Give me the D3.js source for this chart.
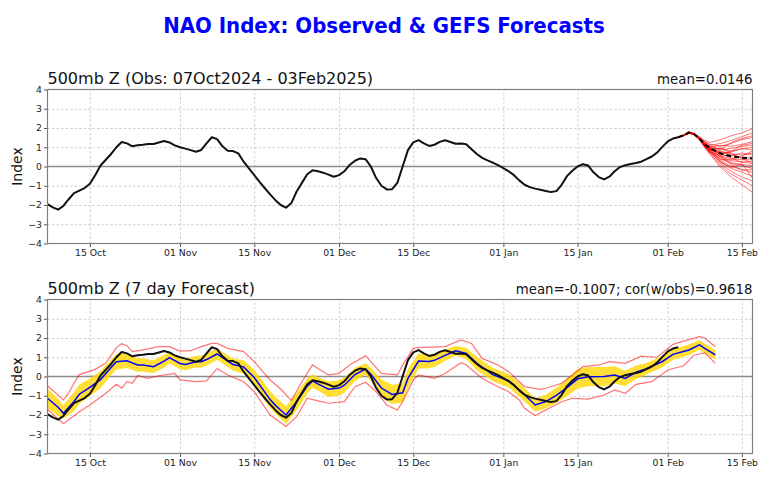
<!DOCTYPE html>
<html><head><meta charset="utf-8">
<script src="https://cdn.jsdelivr.net/npm/d3@7"></script>
<style>body{margin:0;background:#fff}svg{display:block}</style>
</head><body><svg id="c" width="768" height="480"></svg>
<script>
// ---------- data ----------
const startDate = "2024-10-07";
const endDate = "2025-02-17";
const tickDates = ["2024-10-15","2024-11-01","2024-11-15","2024-12-01","2024-12-15","2025-01-01","2025-01-15","2025-02-01","2025-02-15"];
const tickLabels = ["15 Oct","01 Nov","15 Nov","01 Dec","15 Dec","01 Jan","15 Jan","01 Feb","15 Feb"];
const yTicks = [-4,-3,-2,-1,0,1,2,3,4];
const mainTitle = "NAO Index: Observed & GEFS Forecasts";
const topTitle = "500mb Z (Obs: 07Oct2024 - 03Feb2025)";
const topStat = "mean=0.0146";
const botTitle = "500mb Z (7 day Forecast)";
const botStat = "mean=-0.1007; cor(w/obs)=0.9618";

// observed NAO index, daily from 07 Oct 2024 (day 0) to 03 Feb 2025 (day 119)
const obs = [-1.95,-2.12,-2.24,-2.05,-1.7,-1.38,-1.25,-1.12,-0.9,-0.45,
0.05,0.35,0.65,1.0,1.27,1.2,1.05,1.1,1.13,1.17,
1.17,1.25,1.32,1.25,1.1,1.0,0.93,0.85,0.77,0.86,
1.2,1.52,1.42,1.05,0.82,0.8,0.68,0.25,-0.1,-0.45,
-0.8,-1.13,-1.45,-1.75,-2.0,-2.14,-1.9,-1.3,-0.85,-0.4,
-0.2,-0.25,-0.32,-0.42,-0.53,-0.45,-0.25,0.08,0.3,0.42,
0.38,0.0,-0.6,-1.0,-1.19,-1.18,-0.85,0.0,0.85,1.25,
1.37,1.2,1.07,1.13,1.28,1.36,1.27,1.18,1.2,1.16,
0.9,0.65,0.45,0.32,0.2,0.07,-0.08,-0.25,-0.45,-0.72,
-0.95,-1.07,-1.15,-1.21,-1.27,-1.33,-1.28,-0.95,-0.5,-0.22,
0.0,0.12,0.05,-0.3,-0.55,-0.67,-0.53,-0.25,-0.03,0.07,
0.13,0.18,0.25,0.38,0.52,0.72,1.02,1.3,1.45,1.52];

// GEFS ensemble forecast (top panel), day offsets
const ensDays = [119,120,121,122,123,124,125,127,129,131,133];
const ensMembers = [
[1.52,1.62,1.78,1.70,1.55,1.35,1.25,1.40,1.60,1.75,1.98],
[1.52,1.64,1.80,1.72,1.50,1.30,1.10,1.20,1.35,1.55,1.75],
[1.52,1.60,1.74,1.66,1.48,1.25,1.15,1.05,1.20,1.40,1.50],
[1.52,1.63,1.77,1.69,1.45,1.20,1.00,1.10,1.05,1.15,1.30],
[1.52,1.61,1.75,1.67,1.40,1.18,1.05,0.85,0.95,1.05,1.10],
[1.52,1.62,1.79,1.70,1.46,1.10,0.90,0.95,0.80,0.90,1.00],
[1.52,1.60,1.73,1.64,1.42,1.12,0.95,0.70,0.75,0.95,0.85],
[1.52,1.63,1.76,1.68,1.44,1.15,0.92,0.80,0.65,0.60,0.70],
[1.52,1.62,1.78,1.71,1.50,1.20,0.98,0.60,0.55,0.70,0.60],
[1.52,1.61,1.74,1.66,1.38,1.05,0.85,0.75,0.60,0.45,0.50],
[1.52,1.62,1.77,1.69,1.47,1.16,0.90,0.55,0.40,0.35,0.40],
[1.52,1.60,1.75,1.67,1.43,1.08,0.88,0.65,0.45,0.20,0.30],
[1.52,1.63,1.76,1.68,1.41,1.10,0.80,0.50,0.30,0.25,0.15],
[1.52,1.62,1.78,1.70,1.45,1.14,0.95,0.45,0.20,0.10,0.05],
[1.52,1.61,1.74,1.65,1.40,1.05,0.75,0.40,0.15,0.05,-0.10],
[1.52,1.62,1.77,1.69,1.48,1.12,0.82,0.30,0.00,-0.15,-0.30],
[1.52,1.60,1.75,1.66,1.42,1.00,0.70,0.25,-0.10,-0.30,-0.50],
[1.52,1.63,1.76,1.68,1.44,1.06,0.78,0.15,-0.25,-0.55,-0.75],
[1.52,1.62,1.78,1.70,1.46,1.02,0.68,0.05,-0.40,-0.70,-1.00],
[1.52,1.61,1.74,1.66,1.39,0.98,0.62,-0.05,-0.55,-0.95,-1.35],
[1.52,1.62,1.77,1.69,1.50,1.28,1.05,0.90,1.25,1.45,1.60],
[1.52,1.61,1.75,1.67,1.43,1.10,0.85,0.95,0.70,0.40,0.20],
[1.52,1.63,1.78,1.70,1.47,1.18,1.00,0.60,0.80,1.10,1.20],
[1.52,1.62,1.76,1.68,1.40,1.02,0.75,0.55,0.10,-0.20,-0.15],
[1.52,1.60,1.74,1.65,1.44,1.12,0.88,0.35,0.35,0.55,0.80],
[1.52,1.62,1.77,1.69,1.46,1.08,0.80,0.20,-0.05,0.15,-0.60]];
const ensMean = [1.52,1.62,1.76,1.68,1.45,1.15,0.95,0.68,0.53,0.46,0.42];

// 7-day forecast (bottom panel)
const fcDays = [0,2,3,5,6,8,10,12,13,15,17,18,20,22,23,25,26,28,29,30,32,34,35,37,39,42,43,44,45,47,49,50,51,53,55,56,58,60,61,63,65,67,68,70,72,73,75,77,79,81,84,87,88,90,92,94,96,98,100,102,105,107,109,111,113,116,118,121,123,124,126];
const fcMean = [-1.13,-1.6,-1.91,-1.3,-0.92,-0.56,-0.16,0.47,0.77,0.82,0.6,0.6,0.51,0.8,0.98,0.68,0.63,0.77,0.77,0.88,1.17,0.8,0.62,0.5,-0.05,-1.2,-1.5,-1.75,-2.0,-1.31,-0.5,-0.23,-0.38,-0.66,-0.6,-0.45,0.1,0.39,0.12,-0.6,-0.93,-0.85,-0.1,0.8,0.78,0.84,1.1,1.34,1.2,0.68,0.1,-0.22,-0.45,-0.95,-1.48,-1.3,-0.98,-0.58,-0.12,-0.01,0.0,0.08,-0.1,0.22,0.4,0.78,1.15,1.38,1.64,1.46,1.12];
const fcBandHi = [-0.63,-1.15,-1.5,-0.8,-0.42,-0.11,0.29,0.87,1.17,1.2,0.95,0.95,0.84,1.13,1.28,0.98,0.93,1.07,1.09,1.2,1.47,1.1,0.94,0.85,0.35,-0.75,-1.05,-1.3,-1.55,-0.86,-0.1,0.12,-0.03,-0.26,-0.2,-0.05,0.45,0.69,0.47,-0.15,-0.43,-0.35,0.4,1.2,1.13,1.19,1.4,1.59,1.5,1.03,0.45,0.13,-0.1,-0.6,-1.13,-0.95,-0.58,-0.13,0.38,0.49,0.5,0.53,0.3,0.57,0.7,1.08,1.43,1.66,1.89,1.71,1.37];
const fcBandLo = [-1.63,-2.05,-2.2,-1.8,-1.42,-1.01,-0.61,0.07,0.37,0.44,0.25,0.25,0.18,0.47,0.68,0.38,0.33,0.47,0.45,0.56,0.87,0.5,0.3,0.15,-0.45,-1.65,-1.95,-2.2,-2.45,-1.76,-0.9,-0.58,-0.73,-1.06,-1.0,-0.85,-0.25,0.09,-0.23,-1.05,-1.43,-1.35,-0.6,0.4,0.43,0.49,0.8,1.09,0.9,0.33,-0.25,-0.57,-0.8,-1.3,-1.83,-1.65,-1.38,-1.03,-0.62,-0.51,-0.5,-0.37,-0.5,-0.13,0.1,0.48,0.87,1.1,1.39,1.21,0.87];
const fcUpperDays = [0,3,4,5,6,9,11,13,14,15,16,18,21,23,25,27,29,31,32,34,37,39,42,44,46,48,50,51,53,55,57,60,61,63,66,67,69,70,75,78,80,82,85,87,89,90,93,94,97,99,101,104,106,109,112,115,118,120,123,124,126];
const fcUpper = [-0.48,-1.22,-0.85,-0.35,0.1,0.37,0.7,1.5,1.7,1.6,1.29,1.38,1.55,1.55,1.32,1.34,1.55,1.72,1.72,1.46,1.29,0.77,-0.18,-0.65,-1.25,-0.27,0.6,0.42,0.08,0.16,0.6,1.08,0.77,0.16,0.08,0.6,1.46,1.5,1.55,1.9,1.72,0.94,0.6,0.25,-0.27,-0.53,-0.67,-0.61,-0.35,0.08,0.51,0.6,0.77,0.68,1.06,1.0,1.67,1.84,2.07,2.0,1.55];
const fcLowerDays = [0,3,6,8,11,13,14,15,16,17,19,21,24,25,28,30,32,34,37,39,42,45,47,49,51,53,56,58,60,62,64,66,67,69,70,73,75,78,79,82,85,87,89,90,92,94,97,99,102,105,107,109,111,114,117,120,122,124,126];
const fcLower = [-1.7,-2.45,-1.83,-1.48,-0.87,-0.4,-0.61,-0.27,-0.35,0.05,-0.1,0.04,0.16,-0.18,-0.27,-0.23,0.42,0.08,-0.27,-0.79,-2.0,-2.6,-2.09,-1.13,-1.27,-1.39,-1.31,-0.53,-0.3,-0.79,-1.48,-1.74,-1.31,-0.18,0.08,-0.1,0.16,0.72,0.6,-0.1,-0.53,-0.79,-1.22,-1.65,-2.03,-1.74,-1.31,-1.13,-1.17,-0.96,-0.7,-0.87,-0.41,-0.27,0.34,0.56,1.12,1.23,0.68];

// ---------- drawing ----------
const svg = d3.select("#c");
const L = 47.5, R = 752.5;
const parse = d3.utcParse("%Y-%m-%d");
const t0 = parse(startDate);
const dd = k => d3.utcDay.offset(t0, k);
const x = d3.scaleUtc().domain([t0, parse(endDate)]).range([L, R]);
const tickVals = tickDates.map(parse);
const font = "'DejaVu Sans', sans-serif";
const fmtY = d => d < 0 ? "\u2212" + (-d) : String(d);

svg.append("text").attr("x", 384).attr("y", 33).attr("text-anchor", "middle")
  .attr("font-family", "'DejaVu Sans Condensed', 'DejaVu Sans', sans-serif")
  .attr("font-stretch", "condensed")
  .attr("font-weight", "bold").attr("font-size", 22).attr("fill", "#0000ff").text(mainTitle);

function panel(top, bot, idx, title, stat) {
  const y = d3.scaleLinear().domain([-4, 4]).range([bot, top]);
  const g = svg.append("g");
  const cid = "clip" + idx;
  svg.append("clipPath").attr("id", cid).append("rect")
    .attr("x", L).attr("y", top).attr("width", R - L).attr("height", bot - top);

  // grid
  g.append("g").attr("transform", `translate(0,${bot})`)
    .call(d3.axisBottom(x).tickValues(tickVals).tickSize(-(bot - top)).tickFormat(""))
    .call(a => a.select(".domain").remove())
    .selectAll("line").attr("stroke", "#c4c4c4").attr("stroke-width", 0.8).attr("stroke-dasharray", "2.5,2");
  g.append("g").attr("transform", `translate(${L},0)`)
    .call(d3.axisLeft(y).tickValues(yTicks.filter(v => v !== 0 && Math.abs(v) < 4)).tickSize(-(R - L)).tickFormat(""))
    .call(a => a.select(".domain").remove())
    .selectAll("line").attr("stroke", "#c4c4c4").attr("stroke-width", 0.8).attr("stroke-dasharray", "2.5,2");
  // zero line
  g.append("line").attr("x1", L).attr("x2", R).attr("y1", y(0)).attr("y2", y(0))
    .attr("stroke", "#8c8c8c").attr("stroke-width", 1.5);

  // axes
  const ax = g.append("g").attr("transform", `translate(0,${bot})`)
    .call(d3.axisBottom(x).tickValues(tickVals).tickSize(3.5).tickPadding(2.5)
      .tickFormat((d, i) => tickLabels[i]));
  const ay = g.append("g").attr("transform", `translate(${L},0)`)
    .call(d3.axisLeft(y).tickValues(yTicks).tickSize(3.5).tickPadding(2).tickFormat(fmtY));
  [ax, ay].forEach(a => {
    a.select(".domain").remove();
    a.selectAll("line").attr("stroke", "#555");
    a.selectAll("text").attr("font-family", font).attr("font-size", 9.3).attr("fill", "#222");
  });

  // labels
  svg.append("text").attr("x", L).attr("y", top - 5.5).attr("font-family", font)
    .attr("font-size", 16).attr("fill", "#111").text(title);
  svg.append("text").attr("x", R).attr("y", top - 5.5).attr("text-anchor", "end").attr("font-family", font)
    .attr("font-size", 13.3).attr("fill", "#111").text(stat);
  svg.append("text").attr("transform", `translate(22,${(top + bot) / 2}) rotate(-90)`)
    .attr("text-anchor", "middle").attr("font-family", font).attr("font-size", 14).attr("fill", "#111").text("Index");

  const plot = g.append("g").attr("clip-path", `url(#${cid})`);
  return { y, plot, g };
}

// top panel
{
  const { y, plot, g } = panel(89.5, 243.5, 0, topTitle, topStat);
  const line = d3.line().x(d => x(dd(d[0]))).y(d => y(d[1]));
  plot.append("path").datum(obs.map((v, i) => [i, v])).attr("d", line)
    .attr("fill", "none").attr("stroke", "#111").attr("stroke-width", 2).attr("stroke-linejoin", "round");
  ensMembers.forEach(m => {
    plot.append("path").datum(ensDays.map((d, i) => [d, m[i]])).attr("d", line)
      .attr("fill", "none").attr("stroke", "#ff0000").attr("stroke-opacity", 0.55).attr("stroke-width", 1);
  });
  plot.append("path").datum(ensDays.map((d, i) => [d, ensMean[i]])).attr("d", line)
    .attr("fill", "none").attr("stroke", "#000").attr("stroke-width", 2).attr("stroke-dasharray", "5,3");
  g.append("rect").attr("x", L).attr("y", 89.5).attr("width", R - L).attr("height", 154)
    .attr("fill", "none").attr("stroke", "#808080").attr("stroke-width", 1.2);
}

// bottom panel
{
  const { y, plot, g } = panel(299.5, 453.5, 1, botTitle, botStat);
  const line = d3.line().x(d => x(dd(d[0]))).y(d => y(d[1]));
  const area = d3.area().x(d => x(dd(d[0]))).y0(d => y(d[1])).y1(d => y(d[2]));
  plot.append("path").datum(fcDays.map((d, i) => [d, fcBandLo[i], fcBandHi[i]])).attr("d", area)
    .attr("fill", "#ffd700").attr("fill-opacity", 0.8);
  plot.append("path").datum(fcUpperDays.map((d, i) => [d, fcUpper[i]])).attr("d", line)
    .attr("fill", "none").attr("stroke", "#ff0000").attr("stroke-opacity", 0.55).attr("stroke-width", 1.2);
  plot.append("path").datum(fcLowerDays.map((d, i) => [d, fcLower[i]])).attr("d", line)
    .attr("fill", "none").attr("stroke", "#ff0000").attr("stroke-opacity", 0.55).attr("stroke-width", 1.2);
  plot.append("path").datum(fcDays.map((d, i) => [d, fcMean[i]])).attr("d", line)
    .attr("fill", "none").attr("stroke", "#0000ff").attr("stroke-width", 1.5);
  plot.append("path").datum(obs.map((v, i) => [i, v])).attr("d", line)
    .attr("fill", "none").attr("stroke", "#111").attr("stroke-width", 2).attr("stroke-linejoin", "round");
  g.append("rect").attr("x", L).attr("y", 299.5).attr("width", R - L).attr("height", 154)
    .attr("fill", "none").attr("stroke", "#808080").attr("stroke-width", 1.2);
}
</script></body></html>
